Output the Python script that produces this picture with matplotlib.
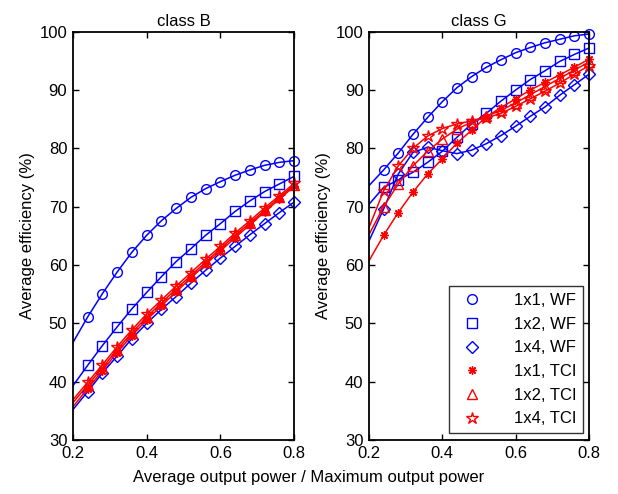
import numpy as np
import matplotlib.pyplot as plt

plt.rcParams['font.family'] = ['Liberation Sans', 'DejaVu Sans']
plt.rcParams['font.size'] = 12

# x values: line starts at 0.2, markers from 0.24 on
x = [0.20, 0.24, 0.28, 0.32, 0.36, 0.40, 0.44, 0.48, 0.52,
     0.56, 0.60, 0.64, 0.68, 0.72, 0.76, 0.80]

# class B
b_wf11 = [46.7, 51.1, 55.1, 58.8, 62.2, 65.1, 67.6, 69.7, 71.6,
          73.1, 74.3, 75.4, 76.3, 77.1, 77.6, 77.9]
b_wf12 = [39.3, 42.8, 46.2, 49.4, 52.5, 55.3, 58.0, 60.6, 62.8,
          65.1, 67.1, 69.2, 71.0, 72.6, 73.9, 75.2]
b_wf14 = [35.2, 38.3, 41.5, 44.4, 47.4, 50.0, 52.4, 54.6, 56.9,
          59.1, 61.2, 63.2, 65.2, 67.1, 69.0, 70.8]
b_tci11 = [35.7, 38.8, 41.9, 45.0, 47.9, 50.6, 53.0, 55.4, 57.8,
           60.1, 62.4, 64.7, 66.9, 69.1, 71.3, 73.5]
b_tci12 = [36.4, 39.4, 42.4, 45.5, 48.4, 51.1, 53.5, 55.9, 58.2,
           60.5, 62.8, 65.1, 67.2, 69.4, 71.6, 73.7]
b_tci14 = [36.9, 39.9, 42.9, 46.0, 48.9, 51.6, 54.0, 56.4, 58.7,
           61.0, 63.2, 65.5, 67.6, 69.8, 71.9, 74.0]

# class G
g_wf11 = [73.6, 76.3, 79.2, 82.4, 85.3, 88.0, 90.4, 92.3, 93.9,
          95.2, 96.4, 97.3, 98.1, 98.7, 99.3, 99.6]
g_wf12 = [70.4, 73.3, 74.6, 75.9, 77.6, 79.5, 81.9, 84.2, 86.0,
          88.1, 90.0, 91.8, 93.3, 94.9, 96.1, 97.2]
g_wf14 = [64.1, 69.6, 75.6, 79.3, 80.2, 79.6, 79.1, 79.7, 80.8,
          82.2, 83.8, 85.5, 87.1, 89.1, 90.9, 92.7]
g_tci11 = [60.7, 65.1, 69.0, 72.5, 75.6, 78.2, 80.9, 83.1, 85.4,
           87.0, 88.5, 90.0, 91.3, 92.6, 93.9, 95.3]
g_tci12 = [65.2, 70.0, 73.9, 77.0, 79.5, 81.6, 83.3, 84.5, 85.5,
           86.5, 87.8, 89.2, 90.6, 92.0, 93.4, 94.8]
g_tci14 = [66.4, 72.7, 77.0, 80.0, 82.1, 83.4, 84.2, 84.7, 85.2,
           86.0, 87.2, 88.5, 89.8, 91.2, 92.7, 94.2]

labels = ['1x1, WF', '1x2, WF', '1x4, WF', '1x1, TCI', '1x2, TCI', '1x4, TCI']
colors = ['blue', 'blue', 'blue', 'red', 'red', 'red']
markers = ['o', 's', 'D', (8, 2, 0), '^', '*']
msizes = [7, 6.5, 6, 6, 7.5, 9]

fig = plt.figure(figsize=(6.18, 4.94), dpi=100)
ax1 = fig.add_axes([0.118, 0.1093, 0.358, 0.8265])
ax2 = fig.add_axes([0.597, 0.1093, 0.356, 0.8265])

panels = [(ax1, 'class B', [b_wf11, b_wf12, b_wf14, b_tci11, b_tci12, b_tci14]),
          (ax2, 'class G', [g_wf11, g_wf12, g_wf14, g_tci11, g_tci12, g_tci14])]

for ax, title, series in panels:
    for ys, c, m, ms in zip(series, colors, markers, msizes):
        ax.plot(x, ys, color=c, lw=1.1)
        ax.plot(x[1:], ys[1:], ls='none', marker=m, ms=ms, mfc='none',
                mec=c, mew=1.0, color=c, clip_on=False)
    ax.set_xlim(0.2, 0.8)
    ax.set_ylim(30, 100)
    ax.set_xticks([0.2, 0.4, 0.6, 0.8])
    ax.set_yticks(range(30, 101, 10))
    ax.tick_params(direction='in', length=4, width=1, top=True, right=True,
                   labelsize=12, pad=4)
    for s in ax.spines.values():
        s.set_linewidth(1.3)
        s.set_zorder(3)
    ax.set_title(title, fontsize=12, pad=4)
    ax.set_ylabel('Average efficiency (%)', fontsize=12, labelpad=3)

handles = [plt.Line2D([], [], ls='none', marker=m, ms=ms, mfc='none', mec=c, mew=1.0)
           for c, m, ms in zip(colors, markers, msizes)]
leg = ax2.legend(handles, labels, loc='lower right', fontsize=12, frameon=True,
                 fancybox=False, edgecolor='black', borderpad=0.4,
                 labelspacing=0.52, handletextpad=1.5, borderaxespad=0,
                 bbox_to_anchor=(0.973, 0.017))
leg.get_frame().set_linewidth(1.0)

fig.text(0.5, 0.018, 'Average output power / Maximum output power',
         ha='center', va='bottom', fontsize=12)

fig.savefig('out.png', dpi=100)
